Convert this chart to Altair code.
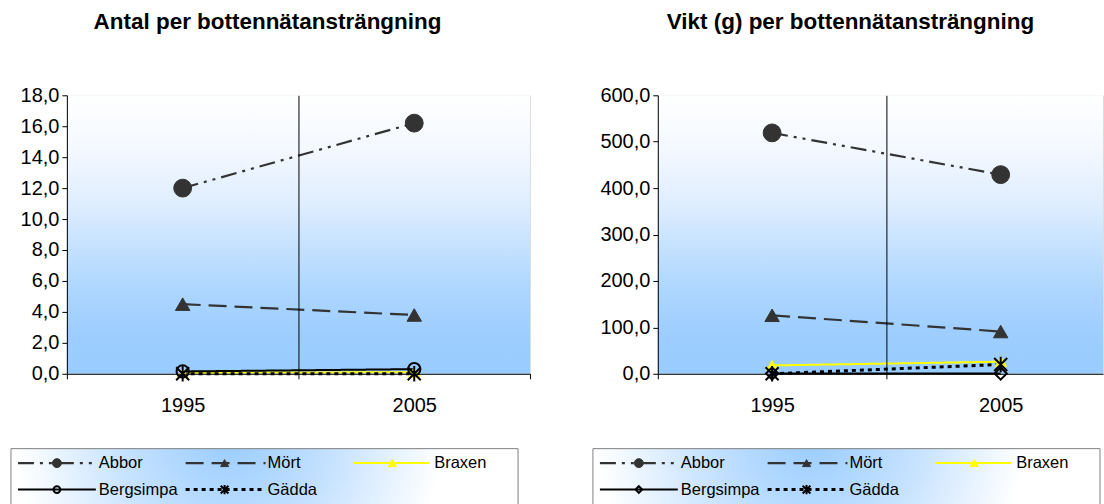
import altair as alt
import pandas as pd

# ---------------- data ----------------
years = ["1995", "2005"]
species = ["Abbor", "Mört", "Braxen", "Bergsimpa", "Gädda"]

antal_abbor = [12.0, 16.2]
antal_mort = [4.5, 3.8]
antal_braxen = [0.07, 0.1]
antal_bergsimpa = [0.15, 0.3]
antal_gadda = [0.0, 0.0]

vikt_abbor = [519.0, 429.0]
vikt_mort = [126.0, 91.0]
vikt_braxen = [18.0, 26.0]
vikt_bergsimpa = [0.5, 0.5]
vikt_gadda = [0.0, 20.0]

antal_ticks = [0, 2, 4, 6, 8, 10, 12, 14, 16, 18]
vikt_ticks = [0, 100, 200, 300, 400, 500, 600]

title_antal = "Antal per bottennätansträngning"
title_vikt = "Vikt (g) per bottennätansträngning"

# ---------------- styles ----------------
FONT = "Liberation Sans"
ASTERISK = "M-1,-1L1,1M-1,1L1,-1M0,-1.2L0,1.2"
STYLE = {
    "Abbor": dict(color="#333333", dash=[16, 6, 3, 6, 3, 6], width=2.2, shape="circle",
                  fill="#333333", size=320, lsize=80),
    "Mört": dict(color="#333333", dash=[18, 8], width=2.2, shape="triangle-up",
                 fill="#333333", size=210, lsize=65),
    "Braxen": dict(color="#FFFF00", dash=[1, 0], width=2, shape="triangle-up",
                   fill="#FFFF00", size=130, lsize=65),
    "Bergsimpa": dict(color="#000000", dash=[1, 0], width=2, shape="circle",
                      fill="transparent", size=150, lsize=45),
    "Gädda": dict(color="#000000", dash=[4, 4], width=3, shape=ASTERISK,
                  fill="transparent", size=170, lsize=60),
}

BG = alt.LinearGradient(
    gradient="linear", x1=0, y1=0, x2=0, y2=1,
    stops=[
        alt.GradientStop(offset=0.0, color="#FFFFFF"),
        alt.GradientStop(offset=0.2, color="#F3F8FF"),
        alt.GradientStop(offset=0.4, color="#DDEDFF"),
        alt.GradientStop(offset=0.55, color="#C4E1FF"),
        alt.GradientStop(offset=0.7, color="#ADD6FF"),
        alt.GradientStop(offset=0.85, color="#9ECEFF"),
        alt.GradientStop(offset=1.0, color="#99CCFF"),
    ],
)
LEG_BG = alt.RadialGradient(
    gradient="radial", x1=0.43, y1=0.42, r1=0, x2=0.43, y2=0.42, r2=0.42,
    stops=[
        alt.GradientStop(offset=0.0, color="#99CCFF"),
        alt.GradientStop(offset=0.5, color="#C6E2FF"),
        alt.GradientStop(offset=1.0, color="#FFFFFF"),
    ],
)

H = 279
COL_LINE = [(7, 85), (175, 255), (343, 419)]
COL_MARK = [46, 214, 382]
COL_TEXT = [88, 257, 424]
ROW_Y = [368.5, 395]  # relative to plot top


def panel(title, vals, ticks, width, step, title_cx, leg_left, shape_over):
    units = width / step
    rows = []
    for s in species:
        for i, y in enumerate(years):
            rows.append({"species": s, "year": y, "pos": i + 0.5, "value": vals[s][i]})
    df = pd.DataFrame(rows)

    label_expr = "datum.value == 0.5 ? '%s' : datum.value == 1.5 ? '%s' : ''" % (years[0], years[1])
    xvals = [v for v in [0, 0.5, 1, 1.5, 2] if v <= units + 1e-9]
    x_axis = alt.Axis(
        values=xvals, labelExpr=label_expr, title=None, grid=True,
        gridColor="#000000", gridWidth=1,
        gridOpacity={"condition": {"test": "datum.value == 1", "value": 1}, "value": 0},
        tickOpacity={"condition": {"test": "datum.value % 1 == 0", "value": 1}, "value": 0},
        tickSize=5, tickColor="#000000", domainColor="#000000",
        labelFont=FONT, labelFontSize=20, labelColor="#000000", labelPadding=17,
        labelFlush=False, labelOverlap=False, zindex=1,
    )
    y_axis = alt.Axis(
        values=ticks, labelExpr="replace(format(datum.value, '.1f'), '.', ',')",
        title=None, grid=False, tickSize=5, tickColor="#000000", domainColor="#000000",
        labelFont=FONT, labelFontSize=20, labelColor="#000000", labelPadding=3, zindex=1,
    )
    xs = alt.Scale(domain=[0, units], nice=False, zero=False)
    ys = alt.Scale(domain=[0, ticks[-1]], nice=False)

    one = pd.DataFrame({"t": [title]})
    layers = []
    # invisible anchor at top of the page
    layers.append(alt.Chart(one).mark_rect(opacity=0).encode(
        x=alt.value(0), x2=alt.value(1), y=alt.value(-94), y2=alt.value(-93)))
    # plot background gradient
    layers.append(alt.Chart(one).mark_rect(fill=BG).encode(
        x=alt.value(0), x2=alt.value(width), y=alt.value(0), y2=alt.value(H)))
    # title
    layers.append(alt.Chart(one).mark_text(
        font=FONT, fontSize=22.5, fontWeight="bold", color="#000000",
        align="center", baseline="alphabetic").encode(
        x=alt.value(title_cx), y=alt.value(-66), text="t:N"))
    # legend box
    lx0, lx1 = leg_left, leg_left + 508
    ly0, ly1 = 354, 410
    layers.append(alt.Chart(one).mark_rect(fill=LEG_BG).encode(
        x=alt.value(lx0), x2=alt.value(lx1), y=alt.value(ly0), y2=alt.value(ly1)))
    for (a, b, c, d) in [(lx0, lx1, ly0, ly0), (lx0, lx0, ly0, ly1), (lx1, lx1, ly0, ly1)]:
        layers.append(alt.Chart(one).mark_rule(color="#808080", strokeWidth=1).encode(
            x=alt.value(a), x2=alt.value(b), y=alt.value(c), y2=alt.value(d)))

    # data lines
    for s in species:
        st = STYLE[s]
        sub = df[df.species == s]
        layers.append(alt.Chart(sub).mark_line(
            color=st["color"], strokeDash=st["dash"], strokeWidth=st["width"]).encode(
            x=alt.X("pos:Q", scale=xs, axis=x_axis),
            y=alt.Y("value:Q", scale=ys, axis=y_axis)))
    # data markers
    for s in species:
        st = STYLE[s]
        shp = shape_over.get(s, st["shape"])
        sub = df[df.species == s]
        layers.append(alt.Chart(sub).mark_point(
            shape=shp, size=st["size"], fill=st["fill"], stroke=st["color"],
            strokeWidth=2 if st["fill"] == "transparent" else 1,
            opacity=1, fillOpacity=1).encode(
            x=alt.X("pos:Q", scale=xs, axis=x_axis),
            y=alt.Y("value:Q", scale=ys, axis=y_axis)))

    # legend entries
    for i, s in enumerate(species):
        st = STYLE[s]
        shp = shape_over.get(s, st["shape"])
        col, row = i % 3, i // 3
        yy = ROW_Y[row]
        d = pd.DataFrame({"species": [s]})
        layers.append(alt.Chart(d).mark_rule(
            color=st["color"], strokeDash=st["dash"], strokeWidth=st["width"]).encode(
            x=alt.value(leg_left + COL_LINE[col][0]), x2=alt.value(leg_left + COL_LINE[col][1]),
            y=alt.value(yy)))
        layers.append(alt.Chart(d).mark_point(
            shape=shp, size=st["lsize"], fill=st["fill"], stroke=st["color"],
            strokeWidth=2 if st["fill"] == "transparent" else 1,
            opacity=1, fillOpacity=1).encode(
            x=alt.value(leg_left + COL_MARK[col]), y=alt.value(yy)))
        layers.append(alt.Chart(d).mark_text(
            font=FONT, fontSize=16.5, color="#000000", align="left", baseline="middle").encode(
            x=alt.value(leg_left + COL_TEXT[col]), y=alt.value(yy), text="species:N"))

    return alt.layer(*layers).properties(width=width, height=H)


antal = {"Abbor": antal_abbor, "Mört": antal_mort, "Braxen": antal_braxen,
         "Bergsimpa": antal_bergsimpa, "Gädda": antal_gadda}
vikt = {"Abbor": vikt_abbor, "Mört": vikt_mort, "Braxen": vikt_braxen,
        "Bergsimpa": vikt_bergsimpa, "Gädda": vikt_gadda}

left = panel(title_antal, antal, antal_ticks, 464, 232, 201, -56, {})
right = panel(title_vikt, vikt, vikt_ticks, 446, 229, 193, -65, {"Bergsimpa": "diamond"})

chart = alt.hconcat(left, right, spacing=61).properties(
    padding={"left": 10, "top": 0, "right": 0, "bottom": 0}
).configure_view(strokeWidth=0).configure(background="#FFFFFF")

chart.save("out.html", embed_options={"renderer": "svg", "actions": False})
